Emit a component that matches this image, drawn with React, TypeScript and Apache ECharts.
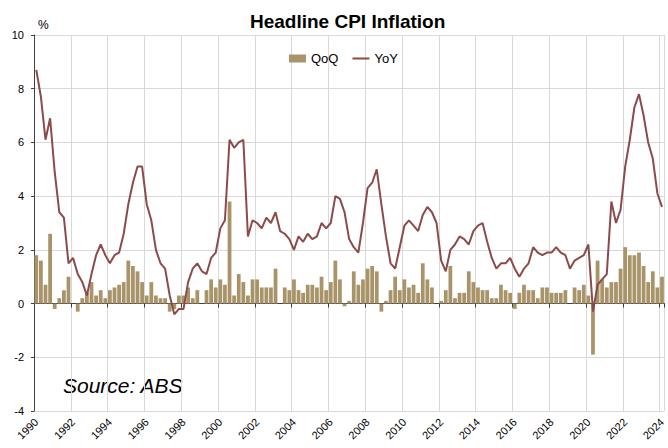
import React, { useEffect, useRef } from 'react';
import * as echarts from 'echarts';

const START_YEAR = 1990;

// Quarter-on-quarter CPI change, %, 1990 Q1 .. 2024 Q1
const qoq: number[] = [
  1.8, 1.6, 0.7, 2.6, // 1990
  -0.2, 0.2, 0.5, 1.0, // 1991
  0.0, -0.3, 0.2, 0.4, // 1992
  0.8, 0.3, 0.5, 0.2, // 1993
  0.5, 0.6, 0.7, 0.8, // 1994
  1.6, 1.4, 1.2, 0.8, // 1995
  0.3, 0.8, 0.3, 0.2, // 1996
  0.2, -0.3, -0.2, 0.3, // 1997
  0.3, 0.6, 0.2, 0.5, // 1998
  0.0, 0.5, 0.9, 0.6, // 1999
  0.9, 0.7, 3.8, 0.3, // 2000
  1.1, 0.8, 0.3, 0.9, // 2001
  0.9, 0.6, 0.6, 0.6, // 2002
  1.3, 0.0, 0.6, 0.5, // 2003
  0.9, 0.5, 0.4, 0.7, // 2004
  0.7, 0.6, 1.0, 0.5, // 2005
  0.8, 1.6, 0.9, -0.1, // 2006
  0.1, 1.2, 0.7, 0.9, // 2007
  1.3, 1.4, 1.2, -0.3, // 2008
  0.1, 0.5, 1.0, 0.5, // 2009
  0.9, 0.6, 0.7, 0.4, // 2010
  1.5, 0.9, 0.6, 0.0, // 2011
  0.1, 0.5, 1.4, 0.2, // 2012
  0.4, 0.4, 1.2, 0.8, // 2013
  0.6, 0.5, 0.5, 0.2, // 2014
  0.2, 0.7, 0.5, 0.4, // 2015
  -0.2, 0.4, 0.7, 0.5, // 2016
  0.5, 0.2, 0.6, 0.6, // 2017
  0.4, 0.4, 0.4, 0.5, // 2018
  0.0, 0.6, 0.5, 0.7, // 2019
  0.3, -1.9, 1.6, 0.9, // 2020
  0.6, 0.8, 0.8, 1.3, // 2021
  2.1, 1.8, 1.8, 1.9, // 2022
  1.4, 0.8, 1.2, 0.6, // 2023
  1.0, // 2024
];

// Year-on-year CPI change, %, 1990 Q1 .. 2024 Q1
const yoy: number[] = [
  8.7, 7.7, 6.1, 6.9, // 1990
  4.9, 3.4, 3.2, 1.5, // 1991
  1.7, 1.1, 0.8, 0.3, // 1992
  1.1, 1.8, 2.2, 1.8, // 1993
  1.5, 1.8, 1.9, 2.6, // 1994
  3.7, 4.5, 5.1, 5.1, // 1995
  3.7, 3.1, 2.0, 1.5, // 1996
  1.3, 0.3, -0.4, -0.2, // 1997
  -0.2, 0.8, 1.3, 1.5, // 1998
  1.2, 1.1, 1.7, 1.9, // 1999
  2.8, 3.1, 6.1, 5.8, // 2000
  6.0, 6.1, 2.5, 3.1, // 2001
  3.0, 2.8, 3.2, 3.0, // 2002
  3.4, 2.7, 2.6, 2.4, // 2003
  2.0, 2.5, 2.3, 2.6, // 2004
  2.4, 2.5, 3.0, 2.8, // 2005
  3.0, 4.0, 3.9, 3.4, // 2006
  2.4, 2.1, 1.9, 3.0, // 2007
  4.3, 4.5, 5.0, 3.7, // 2008
  2.5, 1.5, 1.3, 2.1, // 2009
  2.9, 3.1, 2.9, 2.7, // 2010
  3.3, 3.6, 3.4, 3.0, // 2011
  1.6, 1.2, 2.0, 2.2, // 2012
  2.5, 2.4, 2.2, 2.7, // 2013
  2.9, 3.0, 2.3, 1.7, // 2014
  1.3, 1.5, 1.5, 1.7, // 2015
  1.3, 1.0, 1.3, 1.5, // 2016
  2.1, 1.9, 1.8, 1.9, // 2017
  1.9, 2.1, 1.9, 1.8, // 2018
  1.3, 1.6, 1.7, 1.8, // 2019
  2.2, -0.3, 0.7, 0.9, // 2020
  1.1, 3.8, 3.0, 3.5, // 2021
  5.1, 6.1, 7.3, 7.8, // 2022
  7.0, 6.0, 5.4, 4.1, // 2023
  3.6, // 2024
];

const categories: string[] = qoq.map(
  (_, i) => `${START_YEAR + Math.floor(i / 4)} Q${(i % 4) + 1}`
);

const FONT = "'Liberation Sans', Arial, sans-serif";

export default function App() {
  const ref = useRef<HTMLDivElement>(null);

  useEffect(() => {
    if (!ref.current) return;
    const chart = echarts.init(ref.current, undefined, { renderer: 'svg' });
    chart.setOption({
      animation: false,
      backgroundColor: '#ffffff',
      textStyle: { fontFamily: FONT },
      title: {
        text: 'Headline CPI Inflation',
        left: 245,
        top: 7,
        textStyle: {
          fontFamily: FONT,
          fontWeight: 'bold',
          fontSize: 19,
          color: '#000000',
        },
      },
      legend: {
        left: 284,
        top: 47,
        itemWidth: 17,
        itemHeight: 8,
        itemGap: 13,
        textStyle: { fontSize: 13, color: '#000000', fontFamily: FONT },
        data: [
          { name: 'QoQ', icon: 'rect' },
          { name: 'YoY', itemStyle: { opacity: 0 } },
        ],
      },
      grid: { left: 34, right: 3, top: 35, bottom: 37, containLabel: false },
      xAxis: [
        {
          type: 'category',
          data: categories,
          position: 'bottom',
          boundaryGap: true,
          axisLine: { show: false, onZero: false },
          axisTick: { show: false, interval: 7 },
          axisLabel: {
            interval: 7,
            rotate: 45,
            margin: 9,
            fontSize: 11,
            color: '#000000',
            formatter: (v: string) => v.slice(0, 4),
          },
          splitLine: { show: true, interval: 7, lineStyle: { color: '#d9d9d9', width: 1 } },
        },
        {
          type: 'category',
          data: categories,
          position: 'bottom',
          boundaryGap: true,
          axisLine: { show: true, onZero: true, lineStyle: { color: '#404040', width: 1 } },
          axisTick: { show: true, interval: 7, length: 4, lineStyle: { color: '#404040' } },
          axisLabel: { show: false },
          splitLine: { show: false },
        },
      ],
      yAxis: {
        type: 'value',
        min: -4,
        max: 10,
        interval: 2,
        name: '%',
        nameLocation: 'end',
        nameGap: 4,
        nameTextStyle: { fontSize: 12, color: '#000000', align: 'left', padding: [0, 0, 0, 4] },
        axisLine: { show: true, lineStyle: { color: '#404040' } },
        axisTick: { show: true, length: 3, lineStyle: { color: '#404040' } },
        axisLabel: { fontSize: 11, color: '#000000', margin: 10 },
        splitLine: { show: true, lineStyle: { color: '#d9d9d9', width: 1 } },
      },
      series: [
        {
          name: 'QoQ',
          type: 'bar',
          xAxisIndex: 1,
          data: qoq,
          barCategoryGap: '18%',
          itemStyle: { color: '#A89468' },
        },
        {
          name: 'YoY',
          type: 'line',
          xAxisIndex: 1,
          data: yoy,
          symbol: 'none',
          lineStyle: { color: '#8C4B4B', width: 2 },
          itemStyle: { color: '#8C4B4B' },
        },
      ],
      graphic: [
        {
          type: 'text',
          left: 63,
          top: 375,
          style: {
            text: 'Source: ABS',
            fontSize: 21,
            fontStyle: 'italic',
            fontFamily: FONT,
            fill: '#000000',
          },
        },
      ],
    });
    return () => chart.dispose();
  }, []);

  return (
    <div
      ref={ref}
      style={{ position: 'absolute', left: 0, top: 0, width: 668, height: 448 }}
    />
  );
}
